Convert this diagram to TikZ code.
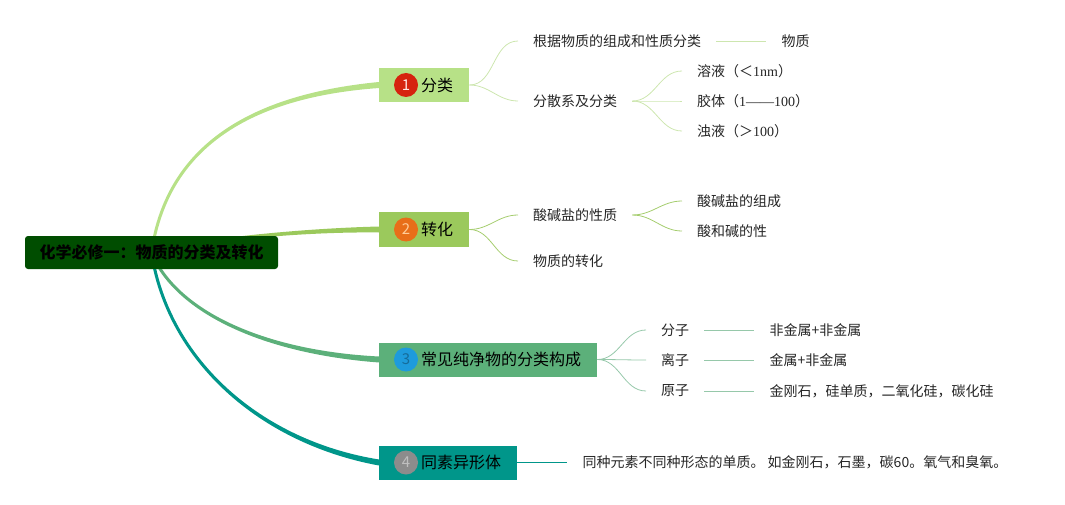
\documentclass[tikz,border=0pt]{standalone}
\usepackage{fontspec}
\setmainfont{Noto Sans CJK SC}
\newfontfamily\numfont{Liberation Serif}
\usetikzlibrary{positioning,backgrounds}
\definecolor{rootgreen}{RGB}{0,77,0}
\definecolor{clsgreen}{RGB}{183,225,135}
\definecolor{chggreen}{RGB}{155,201,92}
\definecolor{puregreen}{RGB}{92,176,122}
\definecolor{alloteal}{RGB}{0,150,138}
\definecolor{clstwig}{RGB}{205,230,175}
\definecolor{chgtwig}{RGB}{165,205,110}
\definecolor{puretwig}{RGB}{150,200,170}
\definecolor{badgered}{RGB}{214,35,15}
\definecolor{badgeorange}{RGB}{232,110,25}
\definecolor{badgeblue}{RGB}{30,155,220}
\definecolor{badgegray}{RGB}{140,140,140}

\begin{document}
\begin{tikzpicture}[
            x=1pt, y=-1pt,
            node distance=50pt, % gap between paired leaves
            every node/.style={font=\fontsize{14}{16}\selectfont, text=black!85},
            topic/.style={rectangle, anchor=west, minimum height=34pt, inner xsep=16pt, font=\fontsize{16}{18}\selectfont, text=black},
            badge/.style={circle, minimum size=24pt, inner sep=0pt, font=\fontsize{15}{16}\selectfont},
            leaf/.style={inner xsep=15pt, inner ysep=2pt},
            trunk/.style={line width=3pt, line join=round, line cap=round},
            twig/.style={line width=0.8pt}
        ]
            \useasboundingbox (0,0) rectangle (1065,505);

            \node [fill=rootgreen, rounded corners=3pt, minimum width=253pt, minimum height=33pt, font=\bfseries\fontsize{16}{18}\selectfont, text=black] (root) at (151.5,252.5) {化学必修一：物质的分类及转化};

            \node [topic, fill=clsgreen] (cls) at (379,85) {\hspace{26pt}分类};
            \node [topic, fill=chggreen] (chg) at (379,229.5) {\hspace{26pt}转化};
            \node [topic, fill=puregreen] (pure) at (379,359.5) {\hspace{26pt}常见纯净物的分类构成};
            \node [topic, fill=alloteal] (allo) at (379,462.5) {\hspace{26pt}同素异形体};

            \node [badge, fill=badgered, text=white!90!red] (cls-n) at ([xshift=27pt]cls.west) {1};
            \node [badge, fill=badgeorange, text=orange!40!white] (chg-n) at ([xshift=27pt]chg.west) {2};
            \node [badge, fill=badgeblue, text=badgeblue!70!black] (pure-n) at ([xshift=27pt]pure.west) {3};
            \node [badge, fill=badgegray, text=gray!50!white] (allo-n) at ([xshift=27pt]allo.west) {4};

            % tapered trunks, wider at the topic end
            \begin{scope}[on background layer]
                \filldraw [trunk, clsgreen] (root.center) .. controls (168,140) and (260,95) .. ([yshift=1.5pt]cls.west)
                    -- ([yshift=-1.5pt]cls.west) .. controls (260,95) and (168,140) .. (root.center);
                \filldraw [trunk, chggreen] (root.center) .. controls (200,240) and (300,230) .. ([yshift=1.5pt]chg.west)
                    -- ([yshift=-1.5pt]chg.west) .. controls (300,230) and (200,240) .. (root.center);
                \filldraw [trunk, puregreen] (root.center) .. controls (175,310) and (260,352) .. ([yshift=1.5pt]pure.west)
                    -- ([yshift=-1.5pt]pure.west) .. controls (260,352) and (175,310) .. (root.center);
                \filldraw [trunk, alloteal] (root.center) .. controls (168,360) and (260,442) .. ([yshift=1.5pt]allo.west)
                    -- ([yshift=-1.5pt]allo.west) .. controls (260,442) and (168,360) .. (root.center);
            \end{scope}

            % 1 分类
            \node [leaf, anchor=west] (basis) at (518,41) {根据物质的组成和性质分类};
            \node [leaf, right=of basis] (matter) {物质};
            \node [leaf, anchor=west] (disp) at (518,101) {分散系及分类};
            \node [leaf, anchor=west] (soln) at (682,71) {溶液（＜{\numfont 1nm}）};
            \node [leaf, anchor=west] (coll) at (682,101) {胶体（{\numfont 1——100}）};
            \node [leaf, anchor=west] (susp) at (682,131) {浊液（＞{\numfont 100}）};

            \draw [twig, clstwig] (cls.east) to[out=0, in=180] (basis.west);
            \draw [twig, clstwig] (cls.east) to[out=0, in=180] (disp.west);
            \draw [twig, clstwig] (basis) -- (matter);
            \foreach \kid in {soln, coll, susp}
                \draw [twig, clstwig] (disp.east) to[out=0, in=180] (\kid.west);

            % 2 转化
            \node [leaf, anchor=west] (abs) at (518,215) {酸碱盐的性质};
            \node [leaf, anchor=west] (conv) at (518,261) {物质的转化};
            \node [leaf, anchor=west] (abscomp) at (682,201) {酸碱盐的组成};
            \node [leaf, anchor=west] (abprop) at (682,231) {酸和碱的性};

            \draw [twig, chgtwig] (chg.east) to[out=0, in=180] (abs.west);
            \draw [twig, chgtwig] (chg.east) to[out=0, in=180] (conv.west);
            \foreach \kid in {abscomp, abprop}
                \draw [twig, chgtwig] (abs.east) to[out=0, in=180] (\kid.west);

            % 3 常见纯净物的分类构成
            \node [leaf, anchor=west] (mol) at (646,330) {分子};
            \node [leaf, anchor=west] (ion) at (646,360) {离子};
            \node [leaf, anchor=west] (atom) at (646,391) {原子};
            \node [leaf, right=of mol] (molex) {非金属+非金属};
            \node [leaf, right=of ion] (ionex) {金属+非金属};
            \node [leaf, right=of atom] (atomex) {金刚石，硅单质，二氧化硅，碳化硅};

            \foreach \kid in {mol, ion, atom} {
                \draw [twig, puretwig] (pure.east) to[out=0, in=180] (\kid.west);
                \draw [twig, puretwig] (\kid) -- (\kid ex);
            }

            % 4 同素异形体
            \node [leaf, right=of allo] (allodef) {同种元素不同种形态的单质。 如金刚石，石墨，碳60。氧气和臭氧。};
            \draw [twig, alloteal] (allo) -- (allodef);
        \end{tikzpicture}
\end{document}
